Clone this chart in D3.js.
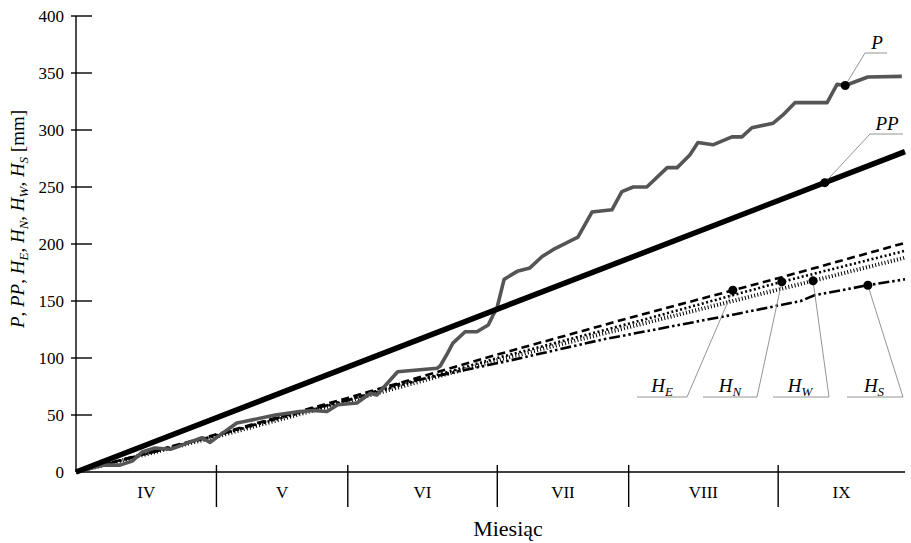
<!DOCTYPE html>
<html>
<head>
<meta charset="utf-8">
<script src="https://cdn.jsdelivr.net/npm/d3@7"></script>
<style>
html,body{margin:0;padding:0;background:#fff;}
svg{display:block;font-family:"Liberation Serif","Times New Roman",serif;}
</style>
</head>
<body>
<svg id="chart" width="911" height="543"></svg>
<script>
// ---- data ----
const months = ["IV","V","VI","VII","VIII","IX"];
const monthBounds = [0, 31, 60, 93, 122, 155, 183];   // day index of month boundaries
const yTicks = [0, 50, 100, 150, 200, 250, 300, 350, 400];

// P – cumulative precipitation
const pDays = [0, 6, 9.7, 12.4, 14.6, 17.4, 20.8, 22.3, 27.8, 29.6, 31.3, 35.5, 36.9, 44, 49.4, 52.3, 55.4, 57.8, 62, 65, 66.4, 71, 79.7, 80.4, 82, 83.2, 85.9, 88.5, 91, 93, 94.5, 97.4, 100.2, 102.9, 105.3, 110.8, 113.9, 118.3, 120.5, 123, 126, 130.5, 132.7, 135.5, 137.3, 140.6, 144.8, 147, 149.2, 153.9, 156, 158.7, 165.8, 168, 169.8, 174.8, 182.3];
const pVals = [0, 6, 6, 9.6, 17.5, 21, 20, 22, 30, 26, 31, 43, 44, 50, 53, 54, 53, 59, 60.5, 69, 67.5, 88, 91, 93, 104, 113, 123, 123, 129, 145, 169, 176, 179, 189, 195, 206, 228, 230, 246, 250, 250, 267, 267, 278, 289, 287, 294, 294, 302, 306, 313, 324, 324, 340, 339, 346.5, 347];

// PP – cumulative potential precipitation need (linear)
const ppDays = [0, 183];
const ppVals = [0, 281];

// H series – cumulative evapotranspiration
const hDays = [0, 31, 60, 93, 122, 155, 183];
const hE = [0, 33, 65, 103, 135, 170, 201];
const hN = [0, 32, 63, 100, 130, 166, 194];
const hW = [0, 31, 62, 98, 127, 160, 188];
const hSDays = [0, 31, 45, 60, 71, 96, 116, 145, 160, 163, 175, 183];
const hS = [0, 32, 48, 63, 77, 98, 116, 138, 150, 155, 164, 169];

// marker positions on each curve (day)
const markerDay = {P: 169.8, PP: 165.3, HE: 145, HN: 155.8, HW: 162.7, HS: 174.8};

// ---- chart ----
const svg = d3.select("#chart");
const x = d3.scaleLinear().domain([0, 183]).range([76, 905]);
const y = d3.scaleLinear().domain([0, 400]).range([472, 16]);

function interp(days, vals, d) {
  for (let i = 1; i < days.length; i++) {
    if (d <= days[i]) {
      const t = (d - days[i-1]) / (days[i] - days[i-1]);
      return vals[i-1] + t * (vals[i] - vals[i-1]);
    }
  }
  return vals[vals.length-1];
}

const line = d3.line().x(d => x(d[0])).y(d => y(d[1]));
const zip = (a, b) => a.map((v, i) => [v, b[i]]);

// axes
const ax = svg.append("g").attr("stroke", "#000").attr("fill", "none");
ax.append("line").attr("x1", x(0)).attr("x2", x(0)).attr("y1", y(400)).attr("y2", y(0)).attr("stroke-width", 1.4);
ax.append("line").attr("x1", x(0)).attr("x2", x(183)).attr("y1", y(0)).attr("y2", y(0)).attr("stroke-width", 1.4);
yTicks.forEach(t => {
  if (t > 0) ax.append("line").attr("x1", x(0) - 5).attr("x2", x(0) + 16).attr("y1", y(t)).attr("y2", y(t)).attr("stroke-width", 1.4);
});
monthBounds.slice(1, -1).forEach(b => {
  ax.append("line").attr("x1", x(b)).attr("x2", x(b)).attr("y1", y(0) - 7).attr("y2", y(0) + 35).attr("stroke-width", 1.4);
});

svg.append("g").selectAll("text").data(yTicks).join("text")
  .attr("x", 64).attr("y", d => y(d)).attr("dy", "0.35em")
  .attr("text-anchor", "end").attr("font-size", 17).attr("fill", "#000")
  .text(d => d);

svg.append("g").selectAll("text").data(months).join("text")
  .attr("x", (d, i) => x((monthBounds[i] + monthBounds[i+1]) / 2))
  .attr("y", y(0) + 26).attr("text-anchor", "middle")
  .attr("font-size", 17).attr("fill", "#000").text(d => d);

svg.append("text").attr("x", 508).attr("y", 536).attr("text-anchor", "middle")
  .attr("font-size", 22).attr("fill", "#000").text("Miesiąc");

// y title with subscripts
const yt = svg.append("text").attr("transform", "translate(24,219) rotate(-90)")
  .attr("text-anchor", "middle").attr("font-size", 19).attr("fill", "#000");
const parts = [["P", null, true], [", ", null, false], ["PP", null, true], [", ", null, false],
  ["H", "E", true], [", ", null, false], ["H", "N", true], [", ", null, false],
  ["H", "W", true], [", ", null, false], ["H", "S", true], [" [mm]", null, false]];
let pendingUp = false;
parts.forEach(([t, sub, it]) => {
  const ts = yt.append("tspan").attr("font-style", it ? "italic" : "normal").text(t);
  if (pendingUp) { ts.attr("dy", -4); pendingUp = false; }
  if (sub) {
    yt.append("tspan").attr("font-style", "italic").attr("font-size", 13).attr("dy", 4).text(sub);
    pendingUp = true;
  }
});

// series
const g = svg.append("g").attr("fill", "none");
g.append("path").datum(zip(hDays, hW)).attr("d", line).attr("stroke", "#000").attr("stroke-width", 4).attr("stroke-dasharray", "1,2.2");
g.append("path").datum(zip(hDays, hN)).attr("d", line).attr("stroke", "#000").attr("stroke-width", 2.6).attr("stroke-dasharray", "2,2.5");
g.append("path").datum(zip(hDays, hE)).attr("d", line).attr("stroke", "#000").attr("stroke-width", 2.6).attr("stroke-dasharray", "8,4.5");
g.append("path").datum(zip(hSDays, hS)).attr("d", line).attr("stroke", "#000").attr("stroke-width", 2.6).attr("stroke-dasharray", "11,3,2.5,3,2.5,3");
g.append("path").datum(zip(pDays, pVals)).attr("d", line).attr("stroke", "#555").attr("stroke-width", 3.6).attr("stroke-linejoin", "round");
g.append("path").datum(zip(ppDays, ppVals)).attr("d", line).attr("stroke", "#000").attr("stroke-width", 5.5);

// markers + leaders + labels
const series = {
  P: [pDays, pVals], PP: [ppDays, ppVals], HE: [hDays, hE], HN: [hDays, hN], HW: [hDays, hW], HS: [hSDays, hS]
};
const labels = [
  {k: "P", main: "P", sub: null, ex: 865, ey: 53, hx: 887, lx: 877, ly: 49},
  {k: "PP", main: "PP", sub: null, ex: 870, ey: 134, hx: 903, lx: 887, ly: 130},
  {k: "HE", main: "H", sub: "E", ex: 687, ey: 397, hx: 637, lx: 662, ly: 392},
  {k: "HN", main: "H", sub: "N", ex: 757, ey: 397, hx: 703, lx: 730, ly: 392},
  {k: "HW", main: "H", sub: "W", ex: 829, ey: 397, hx: 773, lx: 800, ly: 392},
  {k: "HS", main: "H", sub: "S", ex: 903, ey: 397, hx: 847, lx: 874, ly: 392}
];
labels.forEach(L => {
  const [ds, vs] = series[L.k];
  const d = markerDay[L.k];
  const mx = x(d), my = y(interp(ds, vs, d));
  svg.append("polyline").attr("points", `${mx},${my} ${L.ex},${L.ey} ${L.hx},${L.ey}`)
    .attr("fill", "none").attr("stroke", "#888").attr("stroke-width", 0.9);
  svg.append("circle").attr("cx", mx).attr("cy", my).attr("r", 4.5).attr("fill", "#000");
  const t = svg.append("text").attr("x", L.lx).attr("y", L.ly).attr("text-anchor", "middle")
    .attr("font-size", 19).attr("font-style", "italic").attr("fill", "#000");
  t.append("tspan").text(L.main);
  if (L.sub) t.append("tspan").attr("font-size", 13).attr("dy", 4).text(L.sub);
});
</script>
</body>
</html>
